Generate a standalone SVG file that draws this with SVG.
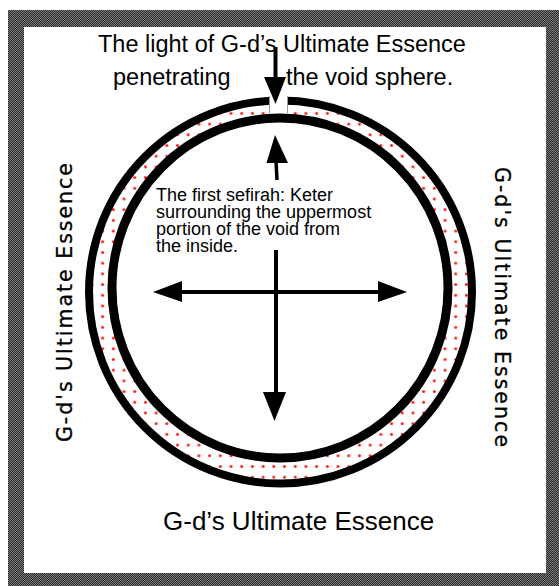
<svg xmlns="http://www.w3.org/2000/svg" width="559" height="586" viewBox="0 0 559 586">
  <defs>
    <pattern id="hatch" patternUnits="userSpaceOnUse" width="2" height="2">
      <rect width="2" height="2" fill="#2c2c2c"/>
      <rect x="0" y="0" width="1" height="1" fill="#7a7a7a"/>
      <rect x="1" y="1" width="1" height="1" fill="#7a7a7a"/>
    </pattern>
    <pattern id="dots" patternUnits="userSpaceOnUse" x="1" y="1" width="10.7" height="10.7">
      <rect width="10.7" height="10.7" fill="#ffffff"/>
      <circle cx="5.35" cy="5.35" r="1.5" fill="#ff1a1a"/>
    </pattern>
    <style>
      .big { font-family: "Liberation Sans", Arial, sans-serif; fill: #000; }
      .side { font-family: "DejaVu Sans", sans-serif; font-size: 20.5px; fill: #000; stroke: #000; stroke-width: 0.3px; }
      .line { stroke: #000; fill: none; }
      .head { fill: #000; stroke: none; }
    </style>
  </defs>

  <g id="frame">
    <path d="M8 10H559V586H8Z M24 27V573H546V27Z" fill="url(#hatch)" fill-rule="evenodd"/>
  </g>

  <g id="void-sphere">
    <circle cx="280.5" cy="292" r="191.5" fill="url(#dots)" stroke="#000" stroke-width="8"/>
    <rect x="269" y="93" width="19" height="21" fill="#fff"/>
    <line x1="269.5" y1="96" x2="269.5" y2="113" stroke="#999" stroke-width="1"/>
    <line x1="287.5" y1="96" x2="287.5" y2="113" stroke="#999" stroke-width="1"/>
    <ellipse cx="280" cy="288" rx="168" ry="170" fill="#fff" stroke="#000" stroke-width="9"/>
  </g>

  <g id="connectors">
    <line class="line" x1="275.5" y1="47" x2="275.5" y2="79" stroke-width="4"/>
    <polygon class="head" points="264,77 286,77 275.5,104"/>
    <line class="line" x1="277" y1="180" x2="276" y2="161" stroke-width="3.5"/>
    <polygon class="head" points="275,135 266.5,163 288,163"/>
    <line class="line" x1="180" y1="292" x2="380" y2="292" stroke-width="4"/>
    <polygon class="head" points="153,292 182,281 182,302"/>
    <polygon class="head" points="407,292 378,281 378,302"/>
    <line class="line" x1="276" y1="250" x2="276" y2="394" stroke-width="4"/>
    <polygon class="head" points="263,392 286,392 274.5,421"/>
  </g>

  <g id="title">
    <text class="big" x="98" y="52" font-size="23.5">The light of G-d’s Ultimate Essence</text>
    <text class="big" x="113" y="85" font-size="23.5">penetrating</text>
    <text class="big" x="286" y="85" font-size="23.5">the void sphere.</text>
  </g>

  <g id="keter">
    <text class="big" font-size="18">
      <tspan x="156" y="200.5">The first sefirah: Keter</tspan>
      <tspan x="156" y="217.5">surrounding the uppermost</tspan>
      <tspan x="156" y="234.5">portion of the void from</tspan>
      <tspan x="156" y="251.5">the inside.</tspan>
    </text>
  </g>

  <g id="bottom-label">
    <text class="big" x="163" y="530" font-size="26">G-d’s Ultimate Essence</text>
  </g>

  <g id="left-label">
    <text class="side" transform="translate(72,442) rotate(-90)" x="0" y="0" textLength="279" lengthAdjust="spacing">G-d's Ultimate Essence</text>
  </g>

  <g id="right-label">
    <text class="side" transform="translate(495,167) rotate(90)" x="0" y="0" textLength="280" lengthAdjust="spacing">G-d's Ultimate Essence</text>
  </g>
</svg>
